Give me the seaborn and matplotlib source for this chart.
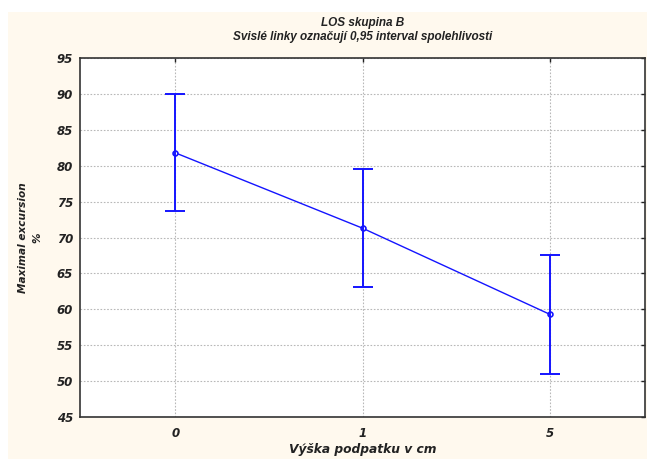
import matplotlib
matplotlib.use("Agg")
import matplotlib.pyplot as plt
import seaborn as sns
import pandas as pd
from matplotlib.patches import Rectangle

# data
categories = ["0", "1", "5"]
means = [81.8, 71.3, 59.3]
ci_low = [73.7, 63.1, 51.0]
ci_high = [90.0, 79.6, 67.5]
y_ticks = [45, 50, 55, 60, 65, 70, 75, 80, 85, 90, 95]

sns.set_theme(style="white")
plt.rcParams['font.family'] = ['Liberation Sans', 'DejaVu Sans']

df = pd.DataFrame({"x": categories, "y": means})

fig = plt.figure(figsize=(6.47, 4.59), dpi=100)
fig.patch.set_facecolor("white")
fig.patches.append(Rectangle((8 / 647, 0), 1 - 8 / 647, 1 - 12 / 459,
                             transform=fig.transFigure, facecolor="#FFF9EE",
                             edgecolor="none", zorder=-10))
ax = fig.add_axes([80 / 647, 1 - 417 / 459, (645 - 80) / 647, (417 - 58) / 459])
ax.set_facecolor("white")

blue = "#1414FF"
sns.pointplot(data=df, x="x", y="y", ax=ax, color=blue, markers="o",
              linestyles="-", errorbar=None, linewidth=1.0,
              markersize=3.5, markerfacecolor="white", markeredgewidth=1.2)
yerr = [[m - lo for m, lo in zip(means, ci_low)],
        [hi - m for m, hi in zip(means, ci_high)]]
ax.errorbar(range(len(categories)), means, yerr=yerr, fmt="none",
            ecolor=blue, elinewidth=1.4, capsize=7, capthick=1.4, zorder=2)

ax.set_xlim(-0.508, 2.508)
ax.set_ylim(45, 95)
ax.set_yticks(y_ticks)
ax.set_xticks(range(len(categories)))
ax.set_xticklabels(categories)

ax.grid(True, linestyle=(0, (1.5, 1.5)), color="#b8b8b8", linewidth=0.8)
ax.set_axisbelow(True)
for s in ax.spines.values():
    s.set_color("#333333")
    s.set_linewidth(1.2)
    s.set_visible(True)

ax.tick_params(axis="both", which="both", colors="#222222", length=0)
ax.tick_params(axis="y", pad=5)
ax.tick_params(axis="x", pad=7)
ax.tick_params(axis="y", right=True, direction="in", length=3, width=1)
ax.tick_params(axis="x", top=True, direction="in", length=3, width=1)
ax.tick_params(axis="y", left=False)
ax.tick_params(axis="x", bottom=False)
for lab in ax.get_xticklabels() + ax.get_yticklabels():
    lab.set_fontweight("bold")
    lab.set_fontstyle("italic")
    lab.set_fontfamily(["DejaVu Sans"])
    lab.set_fontsize(8.5)

ax.set_title("LOS skupina B\nSvislé linky označují 0,95 interval spolehlivosti",
             fontsize=8.5, fontweight="bold", fontstyle="italic",
             color="#222222", pad=13, linespacing=1.2)
ax.set_xlabel("Výška podpatku v cm", fontsize=8.8, fontweight="bold",
              fontstyle="italic", color="#222222", labelpad=2,
              family=["DejaVu Sans"])
ax.set_ylabel("Maximal excursion\n%", fontsize=7.6, fontweight="bold",
              fontstyle="italic", color="#222222", labelpad=10, linespacing=1.6,
              family=["DejaVu Sans"])

fig.savefig("out.png", dpi=100)
